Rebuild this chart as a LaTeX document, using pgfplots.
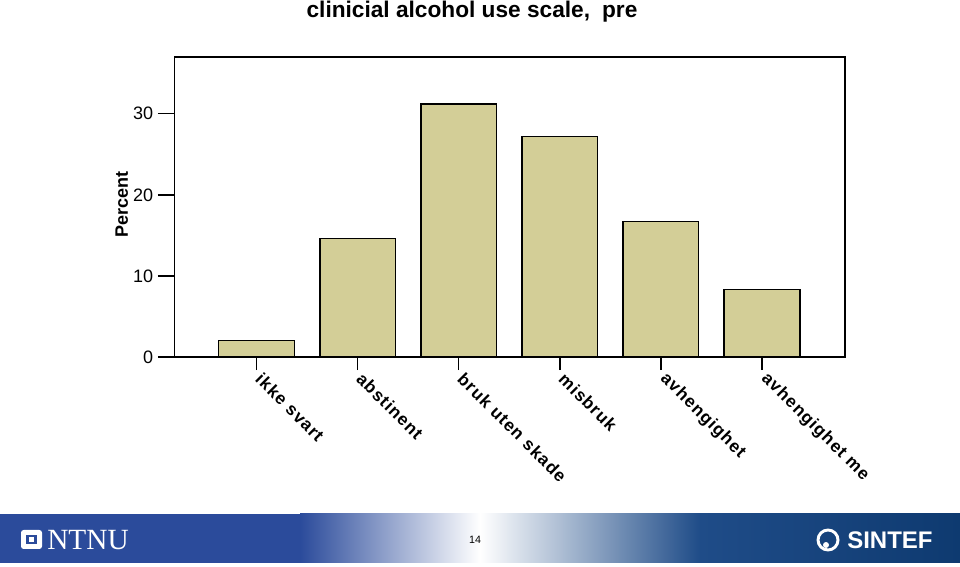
\documentclass[border=0pt]{standalone}
\usepackage{pgfplots}
\pgfplotsset{compat=1.18}
\usepackage{fontspec}
\setmainfont{Liberation Sans}
\newfontfamily\seriffont{Liberation Serif}
\definecolor{barfill}{HTML}{D3CE97}
\definecolor{bandA}{HTML}{2B4B9B}
\definecolor{bandB}{HTML}{1F4C88}
\definecolor{bandC}{HTML}{0E3A70}
\begin{document}
\begin{tikzpicture}[x=0.75pt,y=0.75pt]
\useasboundingbox (0,0) rectangle (960,567);
% footer band
\fill[bandA] (0,4) rectangle (300,53);
\shade[left color=bandA, right color=white] (300,4) rectangle (480,53);
\shade[left color=white, right color=bandB] (480,4) rectangle (700,53);
\shade[left color=bandB, right color=bandC] (700,4) rectangle (960,53);
\fill[white, rounded corners=2pt] (21,18) rectangle (42,37);
\fill[bandA] (26,23) rectangle (37,32);
\fill[white] (29,25) rectangle (34,30);
\node[anchor=west, text=white, font=\seriffont\fontsize{22}{24}\selectfont, inner sep=0] at (47,27) {NTNU};
\node[font=\fontsize{8}{9}\selectfont] at (475,27) {14};
\draw[white, line width=2.2pt] (828,27) circle (10);
\fill[white] (826,22) circle (3);
\node[anchor=west, text=white, font=\bfseries\fontsize{18}{20}\selectfont, inner sep=0] at (847,27) {SINTEF};
% title
\node[font=\bfseries\fontsize{17}{20}\selectfont] at (472,555) {clinicial alcohol use scale,\hspace{9pt}pre};
\begin{axis}[
  at={(173,259)}, anchor=south west,
  width=502.5pt, height=225pt, scale only axis,
  xmin=-0.81, xmax=5.82, ymin=0, ymax=37,
  ybar, bar width=0.75,
  ytick={0,10,20,30},
  xtick={0,1,2,3,4,5},
  xtick pos=bottom, ytick pos=left,
  xticklabels={ikke svart, abstinent, bruk uten skade, misbruk, avhengighet, avhengighet me},
  axis line style={line width=1pt},
  tick style={black, line width=1pt},
  tick align=outside,
  major tick length=12.75pt,
  xtick style={/pgfplots/major tick length=9.75pt},
  /pgf/number format/assume math mode=true,
  yticklabel style={font=\fontsize{13.5}{15}\selectfont},
  xticklabel style={rotate=-45, anchor=west, inner sep=1pt, xshift=1pt,
    font=\bfseries\fontsize{13}{15}\selectfont\addfontfeature{LetterSpace=6}},
  ylabel={Percent},
  ylabel shift=-3pt,
  ylabel style={font=\bfseries\fontsize{13.5}{15}\selectfont, xshift=2pt},
  clip=false,
]
\addplot[fill=barfill, draw=black, line width=1pt] coordinates {
  (0,2.0) (1,14.6) (2,31.2) (3,27.2) (4,16.7) (5,8.3)};
\end{axis}
\end{tikzpicture}
\end{document}
